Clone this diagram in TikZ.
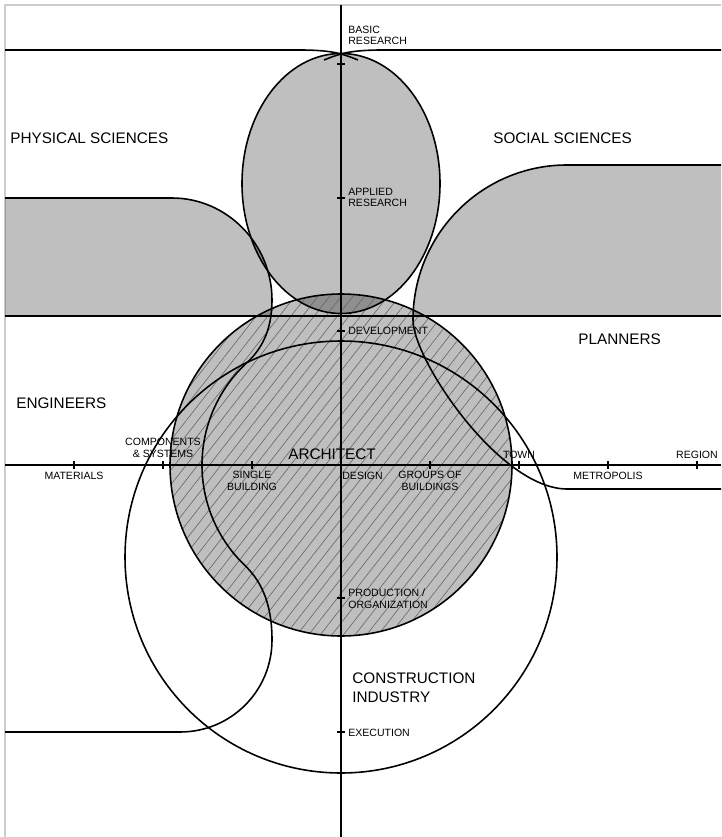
\documentclass[tikz,border=0pt]{standalone}
\usepackage{fontspec}
\setmainfont{Liberation Sans}
\usetikzlibrary{patterns.meta}

\begin{document}
\begin{tikzpicture}[
  x=0.02cm, y=-0.02cm,
  zone/.style={fill=black, fill opacity=0.25},
  hatch/.style={pattern={Lines[angle=52, distance=5.2pt, line width=0.35pt]}, pattern color=black!60},
  outline/.style={draw=black, line width=0.9pt},
  axis/.style={draw=black, line width=1.2pt},
  bigtxt/.style={font=\fontsize{8.7}{10.8}\selectfont, inner sep=0pt, align=left},
  smalltxt/.style={font=\fontsize{6}{6.3}\selectfont, inner sep=0pt, align=center}
]
\useasboundingbox (0,0) rectangle (721,837);
\coordinate (research) at (341,183.5);
\coordinate (architect) at (341,465);
\coordinate (industry) at (341,557);

% frame
\draw[black!20, line width=0.6pt] (5,837) -- (5,5) -- (721,5);

% shaded zones
\fill[zone] (research) ellipse[x radius=99, y radius=130];
\fill[zone] (5,198) -- (172,198) .. controls (227,198) and (272,244) .. (272,300) -- (271,316) -- (5,316) -- cycle;
\fill[zone] (721,165) -- (567,165) .. controls (482,165) and (413,234) .. (413,316) -- (721,316) -- cycle;
\fill[zone] (architect) circle[radius=171];
\path[hatch] (architect) circle[radius=171];

% outlines
\draw[outline] (research) ellipse[x radius=99, y radius=130];
\draw[outline] (architect) circle[radius=171];
\draw[outline] (industry) circle[radius=216];
\draw[outline] (5,50) -- (300,50) .. controls (322,50) and (334,52) .. (341,54) .. controls (348,56) and (353,58) .. (358,60);
\draw[outline] (721,50) -- (382,50) .. controls (360,50) and (348,52) .. (341,54) .. controls (334,56) and (329,58) .. (324,60);
\draw[outline] (5,316) -- (721,316);
% engineers
\draw[outline] (5,198) -- (172,198) .. controls (227,198) and (272,244) .. (272,300)
  .. controls (272,325) and (265,346) .. (246.9,362.7)
  arc[start angle=227.4, end angle=133.8, radius=139]
  .. controls (259,579) and (272,600) .. (272,640)
  .. controls (272,691) and (231,732) .. (180,732) -- (5,732);
% planners
\draw[outline] (721,165) -- (567,165) .. controls (482,165) and (413,234) .. (413,320)
  .. controls (413,360) and (500,489) .. (567,489) -- (721,489);

% axes and ticks
\draw[axis] (341,5) -- (341,837);
\draw[axis] (5,465) -- (721,465);
\foreach \x in {74,163,...,697}
  \draw[axis, line width=0.9pt] (\x,461) -- (\x,469);
\foreach \y in {64,198,331,598,732}
  \draw[axis, line width=0.9pt] (337,\y) -- (345,\y);

% field labels
\node[bigtxt, anchor=base west] (physical) at (10,144) {PHYSICAL SCIENCES};
\node[bigtxt, anchor=base west] (social) at (493,144) {SOCIAL SCIENCES};
\node[bigtxt, anchor=base west] (engineers) at (16,408) {ENGINEERS};
\node[bigtxt, anchor=base west] (planners) at (578,344) {PLANNERS};
\node[bigtxt, anchor=base west] (arch) at (288,459) {ARCHITECT};
\node[bigtxt, anchor=base west] (construction) at (352,702) {CONSTRUCTION\\INDUSTRY};

% vertical axis labels
\node[smalltxt, anchor=base west, align=left] (basic) at (348,45) {BASIC\\RESEARCH};
\node[smalltxt, anchor=base west, align=left] (applied) at (348,207) {APPLIED\\RESEARCH};
\node[smalltxt, anchor=base west] (development) at (348,335) {DEVELOPMENT};
\node[smalltxt, anchor=base west] (design) at (342,479) {DESIGN};
\node[smalltxt, anchor=base west, align=left] (production) at (348,608) {PRODUCTION /\\ORGANIZATION};
\node[smalltxt, anchor=base west] (execution) at (348,736) {EXECUTION};

% horizontal axis labels
\node[smalltxt, anchor=base] (materials) at (74,479) {MATERIALS};
\node[smalltxt, anchor=base] (components) at (163,457) {COMPONENTS\\\& SYSTEMS};
\node[smalltxt, anchor=base] (single) at (252,490) {SINGLE\\BUILDING};
\node[smalltxt, anchor=base] (groups) at (430,490) {GROUPS OF\\BUILDINGS};
\node[smalltxt, anchor=base] (town) at (519,458) {TOWN};
\node[smalltxt, anchor=base] (metropolis) at (608,479) {METROPOLIS};
\node[smalltxt, anchor=base] (region) at (697,458) {REGION};
\end{tikzpicture}
\end{document}
